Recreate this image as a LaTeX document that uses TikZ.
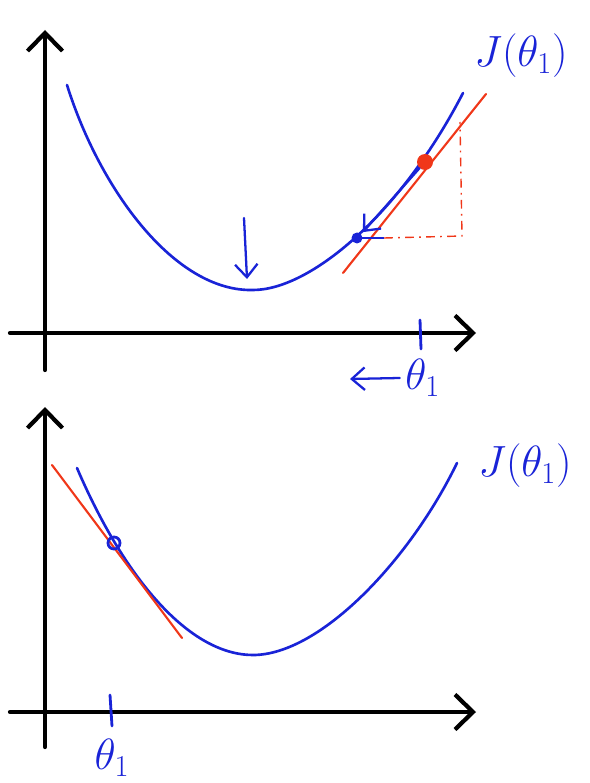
\documentclass[tikz,border=0pt]{standalone}
\usepackage{amsmath,amssymb}
\usepackage{xcolor}
\usetikzlibrary{arrows.meta, positioning, calc}

\definecolor{penblue}{RGB}{25,35,215}
\definecolor{penred}{RGB}{240,55,25}

\tikzset{
  axisline/.style={line width=2.4pt, line cap=round, -{Straight Barb[length=3.6mm,width=7mm]}},
  curveline/.style={penblue, line width=1.5pt, line cap=round},
  tangentline/.style={penred, line width=1.2pt, line cap=round},
  tickmark/.style={penblue, line width=1.6pt, line cap=round},
  penarrow/.style={penblue, line width=1.3pt, line cap=round, -{Straight Barb[length=2.6mm,width=4.5mm]}},
  slopeleg/.style={penred, line width=0.8pt, dash pattern=on 5pt off 3pt on 1pt off 3pt},
  penlabel/.style={penblue, inner sep=0pt, font=\fontsize{26}{30}\selectfont},
  reddot/.style={circle, fill=penred, minimum size=16*0.02cm, inner sep=0pt},
  bluedot/.style={circle, fill=penblue, minimum size=11*0.02cm, inner sep=0pt},
  bluering/.style={circle, draw=penblue, line width=1.6pt, minimum size=12*0.02cm, inner sep=0pt}
}

\begin{document}
\begin{tikzpicture}[x=0.02cm, y=-0.02cm]
    \useasboundingbox (0,0) rectangle (590,783);

    % top panel: theta_1 right of the minimum
    \coordinate (ytopA) at (45,30);
    \coordinate (ybotA) at (45,370);
    \coordinate (xleftA) at (10,333);
    \coordinate (xrightA) at (476,333);
    \draw[axisline] (ybotA) -- (ytopA);
    \draw[axisline] (xleftA) -- (xrightA);

    \draw[curveline] (67,85) .. controls (100,190) and (175,292) .. (253,290)
                             .. controls (310,290) and (400,215) .. (463,93);
    \draw[tangentline] (343,273) -- (486,94);

    \node[reddot] (rdot) at (425,162) {};
    \node[bluedot] (bdot) at (357,238) {};
    \coordinate (legA) at (384,238);
    \coordinate (legB) at (462,236);
    \coordinate (legC) at (460,122);
    \draw[penblue, line width=1.3pt] (bdot.center) -- (legA);
    \draw[slopeleg] (legA) -- (legB) -- (legC);
    \draw[penarrow] (rdot) -- ([xshift=1pt, yshift=1pt]bdot.north east);

    \coordinate (dnA) at (244,218);
    \coordinate (dnB) at (247,279);
    \draw[penarrow] (dnA) -- (dnB);

    \coordinate (tickAt) at (420,320);
    \coordinate (tickAb) at (421,349);
    \draw[tickmark] (tickAt) -- (tickAb);
    \node[penlabel, anchor=west] (thetaA) at (405,378) {$\theta_1$};
    \coordinate (leftA) at (350,379);
    \draw[penarrow] ([xshift=-3pt]thetaA.west) -- (leftA);
    \node[penlabel] (costA) at (521,56) {$J(\theta_1)$};

    % bottom panel: theta_1 left of the minimum
    \coordinate (ytopB) at (45,407);
    \coordinate (ybotB) at (45,747);
    \coordinate (xleftB) at (10,712);
    \coordinate (xrightB) at (476,712);
    \draw[axisline] (ybotB) -- (ytopB);
    \draw[axisline] (xleftB) -- (xrightB);

    \draw[curveline] (77,468) .. controls (125,580) and (190,655) .. (253,655)
                             .. controls (320,655) and (410,560) .. (457,463);
    \draw[tangentline] (52,465) -- (182,638);
    \node[bluering] (bring) at (114,543) {};

    \coordinate (tickBt) at (110,695);
    \coordinate (tickBb) at (112,726);
    \draw[tickmark] (tickBt) -- (tickBb);
    \node[penlabel] (thetaB) at (112,758) {$\theta_1$};
    \node[penlabel] (costB) at (525,466) {$J(\theta_1)$};
\end{tikzpicture}
\end{document}
